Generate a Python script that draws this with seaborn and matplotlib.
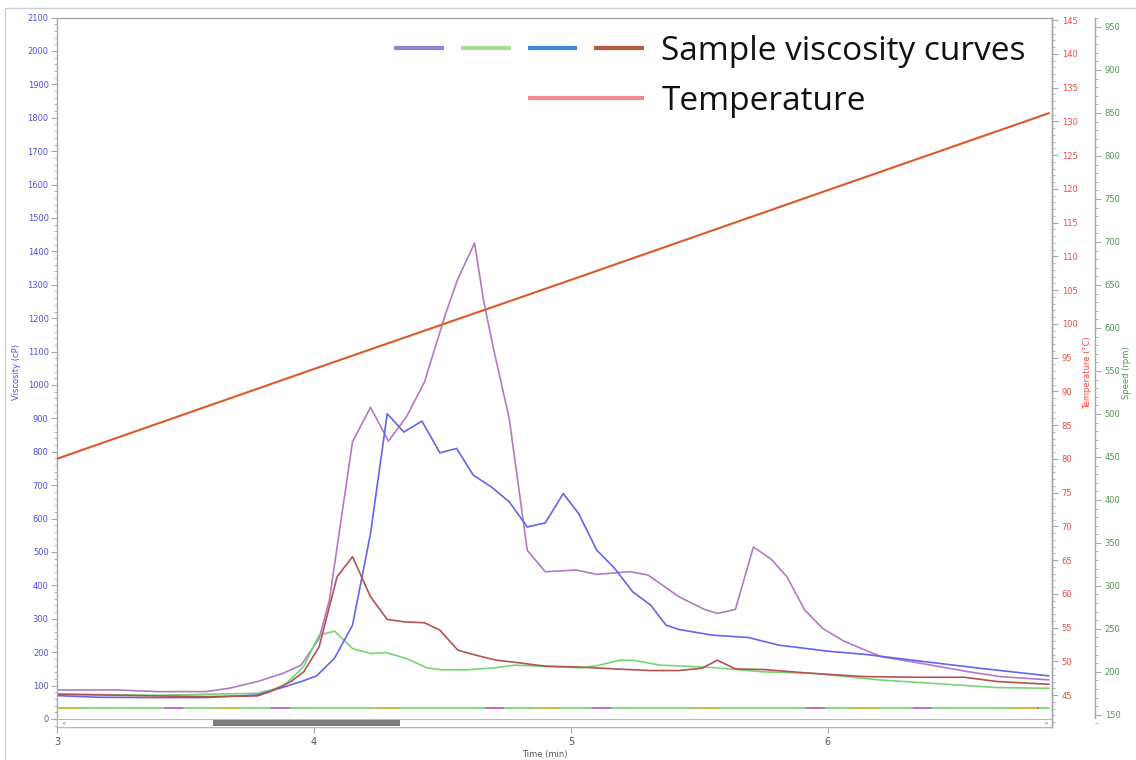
import matplotlib
matplotlib.use("Agg")
import matplotlib.pyplot as plt
import numpy as np
import pandas as pd
import seaborn as sns
from matplotlib.lines import Line2D
from matplotlib.patches import Rectangle
from matplotlib.legend_handler import HandlerTuple
from matplotlib.ticker import MultipleLocator

# ---------------- data ----------------
time_a = [3.00, 3.23, 3.39, 3.58, 3.67, 3.78, 3.88, 3.95, 4.02, 4.06, 4.11, 4.15,
          4.22, 4.29, 4.36, 4.43, 4.51, 4.56, 4.625, 4.66, 4.70, 4.76, 4.83, 4.90,
          5.02, 5.10, 5.23, 5.30, 5.42, 5.52, 5.57, 5.64, 5.71, 5.78, 5.84, 5.91,
          5.98, 6.06, 6.13, 6.21, 6.33, 6.44, 6.55, 6.67, 6.86]
visc_a = [87, 87, 82, 82, 92, 112, 137, 161, 241, 356, 620, 830,
          933, 832, 905, 1009, 1208, 1318, 1425, 1253, 1104, 899, 505, 441,
          446, 433, 441, 431, 366, 328, 316, 328, 515, 478, 426, 326,
          271, 234, 211, 186, 171, 156, 141, 127, 117]

time_b = [3.00, 3.39, 3.78, 3.88, 3.96, 4.02, 4.08, 4.15, 4.22, 4.28, 4.36, 4.44,
          4.50, 4.59, 4.70, 4.78, 4.89, 5.04, 5.11, 5.19, 5.24, 5.35, 5.42, 5.55,
          5.75, 5.94, 6.20, 6.40, 6.66, 6.86]
visc_b = [75, 71, 77, 97, 157, 251, 263, 211, 196, 199, 181, 153,
          147, 147, 153, 161, 158, 153, 161, 176, 176, 161, 159, 154,
          141, 137, 117, 107, 94, 92]

time_c = [3.00, 3.16, 3.39, 3.58, 3.78, 3.88, 3.95, 4.01, 4.08, 4.15, 4.22, 4.285,
          4.35, 4.42, 4.49, 4.555, 4.62, 4.69, 4.76, 4.83, 4.90, 4.97, 5.03, 5.10,
          5.17, 5.24, 5.31, 5.37, 5.42, 5.55, 5.69, 5.81, 6.00, 6.15, 6.33, 6.59, 6.86]
visc_c = [70, 65, 64, 64, 72, 95, 112, 129, 182, 281, 555, 914,
          859, 892, 797, 810, 730, 695, 650, 575, 587, 675, 615, 506,
          451, 381, 341, 281, 268, 251, 244, 221, 203, 193, 176, 152, 129]

time_d = [3.00, 3.39, 3.58, 3.78, 3.83, 3.91, 3.96, 4.02, 4.09, 4.15, 4.22, 4.285,
          4.35, 4.43, 4.49, 4.56, 4.63, 4.71, 4.80, 4.90, 5.02, 5.17, 5.31, 5.42,
          5.51, 5.57, 5.64, 5.75, 5.93, 6.14, 6.33, 6.53, 6.66, 6.86]
visc_d = [74, 69, 67, 69, 82, 112, 141, 216, 426, 486, 366, 298,
          291, 288, 266, 206, 191, 176, 168, 158, 156, 150, 145, 145,
          152, 176, 150, 148, 137, 127, 125, 125, 112, 104]

sample_names = ["Sample A", "Sample B", "Sample C", "Sample D"]
line_colors = ["#b27ac2", "#76d676", "#6464ee", "#b45252"]
legend_colors = ["#9a7edc", "#a8dc90", "#3d86d8", "#b85a40"]

temp_time = [3.0, 4.0, 5.0, 6.0, 6.86]
temp_values = [80.0, 93.3, 106.5, 119.8, 131.2]

speed_time = [3.0, 6.86]
speed_values = [158, 158]

# ---------------- frame ----------------
long = pd.concat([
    pd.DataFrame({"Time (min)": t, "Viscosity (cP)": v, "Sample": n})
    for t, v, n in zip([time_a, time_b, time_c, time_d],
                       [visc_a, visc_b, visc_c, visc_d], sample_names)
], ignore_index=True)
temp_df = pd.DataFrame({"Time (min)": temp_time, "Temperature": temp_values})
speed_df = pd.DataFrame({"Time (min)": speed_time, "Speed": speed_values})

sns.set_style("white")
plt.rcParams["font.family"] = ["DejaVu Sans"]

W, H = 1136, 760
fig = plt.figure(figsize=(W / 100, H / 100), dpi=100)
ax_left, ax_right, ax_top, ax_bot = 57, 1052, 17.6, 727
ax = fig.add_axes([ax_left / W, 1 - ax_bot / H, (ax_right - ax_left) / W,
                   (ax_bot - ax_top) / H])

# outer frame lines of the panel
fig.add_artist(Rectangle((5 / W, -0.1), 1.2, 1 - 8 / H + 0.1, transform=fig.transFigure,
                         fill=False, edgecolor="#c9cfdb", linewidth=1.0))

spine_col = "#a8a8a8"
blue_txt = "#5050e0"
red_txt = "#f04a4a"
green_txt = "#4f9a4f"

# viscosity curves
sns.lineplot(data=long, x="Time (min)", y="Viscosity (cP)", hue="Sample",
             palette=dict(zip(sample_names, line_colors)), estimator=None,
             sort=False, linewidth=1.2, legend=False, ax=ax)
ax.set_xlim(3.0, 6.872)
ax.set_ylim(-24, 2100)

# temperature axis
ax_t = ax.twinx()
sns.lineplot(data=temp_df, x="Time (min)", y="Temperature", color="#ea7038",
             linewidth=1.6, ax=ax_t)
sns.lineplot(data=temp_df, x="Time (min)", y="Temperature", color="#c8502a",
             linewidth=0.6, ax=ax_t)
ax_t.set_ylim(40.26, 145.36)

# speed axis
ax_s = ax.twinx()
sns.lineplot(data=speed_df, x="Time (min)", y="Speed", color="#7ad67a",
             linewidth=1.3, ax=ax_s)
sns.lineplot(data=speed_df, x="Time (min)", y="Speed", color="#c070c0",
             linewidth=1.4, ax=ax_s)
ax_s.lines[-1].set_dashes([10, 45])
sns.lineplot(data=speed_df, x="Time (min)", y="Speed", color="#c8c040",
             linewidth=1.4, ax=ax_s)
ax_s.lines[-1].set_dashes([12, 70])
ax_s.set_ylim(135.9, 960.9)
ax_s.spines["right"].set_position(("axes", 1 + 43 / (ax_right - ax_left)))
ax_s.spines["right"].set_bounds(146, 960)

# ---------------- axes styling ----------------
for a in (ax, ax_t, ax_s):
    for s in a.spines.values():
        s.set_color(spine_col)
        s.set_linewidth(1.0)
for a in (ax_t, ax_s):
    a.spines["left"].set_visible(False)
    a.spines["top"].set_visible(False)
    a.spines["bottom"].set_visible(False)

ax.set_yticks(np.arange(0, 2101, 100))
ax.yaxis.set_minor_locator(MultipleLocator(20))
ax.tick_params(axis="y", which="major", left=True, length=4, width=0.8,
               color=spine_col, labelsize=6, labelcolor=blue_txt, pad=2)
ax.tick_params(axis="y", which="minor", left=True, length=2, width=0.6,
               color=spine_col)
ax.set_xticks([3, 4, 5, 6])
ax.tick_params(axis="x", which="major", bottom=True, length=4, width=0.8,
               color=spine_col, labelsize=7, labelcolor="#555555", pad=3)

ax_t.set_yticks(np.arange(45, 146, 5))
ax_t.yaxis.set_minor_locator(MultipleLocator(1))
ax_t.tick_params(axis="y", which="major", right=True, length=4, width=0.8,
                 color=spine_col, labelsize=6, labelcolor=red_txt, pad=3)
ax_t.tick_params(axis="y", which="minor", right=True, length=2, width=0.6,
                 color=spine_col)

ax_s.set_yticks(np.arange(150, 951, 50))
ax_s.yaxis.set_minor_locator(MultipleLocator(10))
ax_s.tick_params(axis="y", which="major", right=True, length=4, width=0.8,
                 color=spine_col, labelsize=6, labelcolor=green_txt, pad=3)
ax_s.tick_params(axis="y", which="minor", right=True, length=2, width=0.6,
                 color=spine_col)

ax.set_xlabel("Time (min)", fontsize=6, color="#555555")
ax.xaxis.set_label_coords((545 - ax_left) / (ax_right - ax_left), -0.033)
ax.set_ylabel("Viscosity (cP)", fontsize=6, color=blue_txt)
ax.yaxis.set_label_coords(-0.036, 0.5)
ax_t.set_ylabel("Temperature (°C)", fontsize=6, color=red_txt, rotation=90)
ax_t.yaxis.set_label_coords(1.031, 0.5)
ax_s.set_ylabel("Speed (rpm)", fontsize=6, color=green_txt, rotation=90)
ax_s.yaxis.set_label_coords(1.0705, 0.5)

# ---------------- scroll bar along the time axis ----------------
sb_h = (ax_bot - 719.3) / (ax_bot - ax_top)
px = lambda p: (p - ax_left) / (ax_right - ax_left)
ax.add_patch(Rectangle((0, 0), 1, sb_h, transform=ax.transAxes, facecolor="white",
                       edgecolor="#b8b8b8", linewidth=0.8, zorder=5, clip_on=False))
ax.add_patch(Rectangle((px(213), 0.001), px(400) - px(213), sb_h - 0.002,
                       transform=ax.transAxes, facecolor="#7d7d7d",
                       edgecolor="none", zorder=6, clip_on=False))
ax.text(px(64), sb_h / 2, "<", transform=ax.transAxes, fontsize=4, color="#777777",
        ha="center", va="center", zorder=7)
ax.text(px(1046), sb_h / 2, ">", transform=ax.transAxes, fontsize=4, color="#777777",
        ha="center", va="center", zorder=7)

# ---------------- legend ----------------
seg = [Line2D([], [], color=c, linewidth=3.0, solid_capstyle="butt") for c in legend_colors]
blank = Line2D([], [], color="none", linewidth=3.0)
temp_handle = Line2D([], [], color="#f28b8b", linewidth=3.0, solid_capstyle="butt")
leg = fig.legend([tuple(seg), (blank, temp_handle)],
                 ["Sample viscosity curves", "Temperature"],
                 handler_map={tuple: HandlerTuple(ndivide=None, pad=0.51)},
                 loc="upper left", bbox_to_anchor=(394 / W, 1 - 35 / H),
                 frameon=False, prop={"family": "Open Sans", "size": 24},
                 handlelength=7.5, handletextpad=0.52, labelspacing=0.5,
                 borderpad=0, borderaxespad=0, labelcolor="#111111")

fig.savefig("out.png", dpi=100, facecolor="white")
